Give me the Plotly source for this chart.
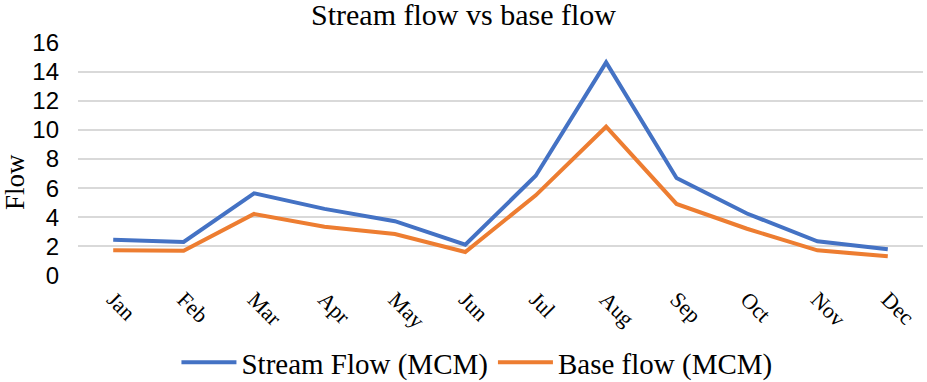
import plotly.graph_objects as go

months = ["Jan", "Feb", "Mar", "Apr", "May", "Jun", "Jul", "Aug", "Sep", "Oct", "Nov", "Dec"]
stream_flow = [2.44, 2.29, 5.64, 4.57, 3.72, 2.10, 6.85, 14.66, 6.69, 4.25, 2.33, 1.78]
base_flow = [1.71, 1.69, 4.22, 3.34, 2.84, 1.60, 5.50, 10.23, 4.91, 3.20, 1.71, 1.30]
y_ticks = [0, 2, 4, 6, 8, 10, 12, 14, 16]

SERIF = "Liberation Serif, Times New Roman, serif"

fig = go.Figure()
fig.add_trace(go.Scatter(x=months, y=stream_flow, mode="lines", name="Stream Flow (MCM)",
                         line=dict(color="#4472C4", width=4)))
fig.add_trace(go.Scatter(x=months, y=base_flow, mode="lines", name="Base flow (MCM)",
                         line=dict(color="#ED7D31", width=4)))

fig.update_layout(
    width=927, height=382,
    margin=dict(l=78, r=4, t=43, b=105),
    paper_bgcolor="white", plot_bgcolor="white",
    title=dict(text="Stream flow vs base flow", x=0.5, xref="container", xanchor="center",
               y=0.99, yref="container", yanchor="top", pad=dict(t=0, b=0),
               font=dict(family=SERIF, size=30, color="#000000")),
    showlegend=True,
    legend=dict(orientation="h", x=0.1165, xanchor="left",
                y=(382 - 337) / 382, yref="container", yanchor="top",
                font=dict(family=SERIF, size=29, color="#000000"),
                itemwidth=55, bgcolor="rgba(0,0,0,0)"),
    xaxis=dict(type="category", range=[-0.5, 11.5], showgrid=False, showline=False,
               zeroline=False, ticks="", tickangle=45, ticklabelstandoff=6,
               tickfont=dict(family=SERIF, size=22, color="#000000")),
    yaxis=dict(range=[0, 16], tickvals=y_ticks, showgrid=True, gridcolor="#D9D9D9",
               gridwidth=1.5, zeroline=False, showline=False, ticks="",
               ticklabelstandoff=18,
               tickfont=dict(family="Liberation Sans, Arial, sans-serif", size=24, color="#000000")),
    annotations=[dict(text="Flow", textangle=-90, xref="paper", yref="paper",
                      x=-(78 - 15) / 845, y=(277 - 183) / 234, xanchor="center", yanchor="middle",
                      showarrow=False, font=dict(family=SERIF, size=27, color="#000000"))],
)

fig.write_html("out.html", config={"displayModeBar": False},
               post_script="document.body.style.margin='0';document.body.style.overflow='hidden';")
